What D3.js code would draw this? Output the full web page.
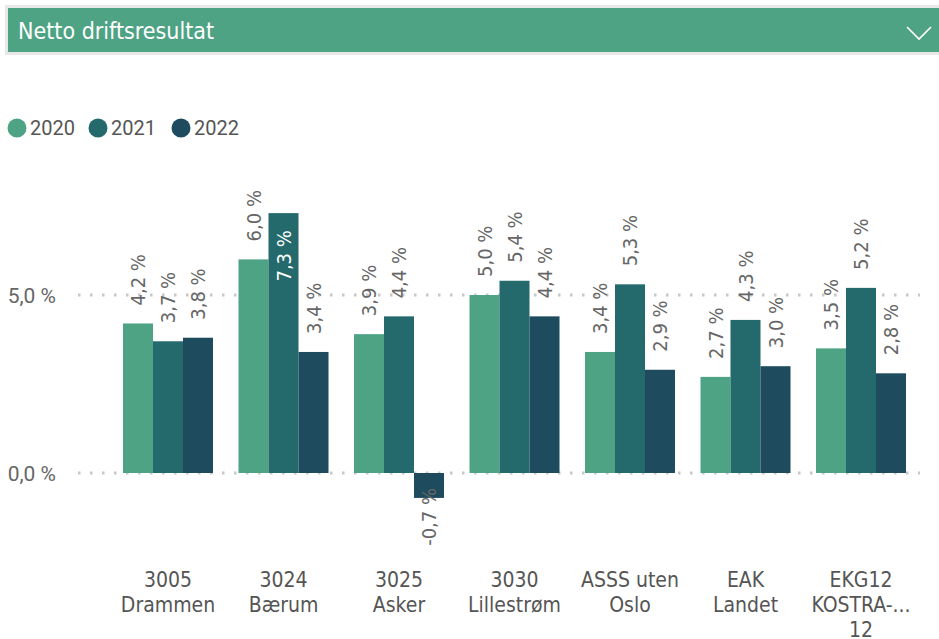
<!DOCTYPE html>
<html>
<head>
<meta charset="utf-8">
<script src="https://cdn.jsdelivr.net/npm/d3@7"></script>
<style>
  body { margin: 0; background: #fff; }
  svg { display: block; }
</style>
</head>
<body>
<div class="plot"></div>
<script>
var W = 939, H = 639;

var categories = [
  ['3005', 'Drammen'],
  ['3024', 'Bærum'],
  ['3025', 'Asker'],
  ['3030', 'Lillestrøm'],
  ['ASSS uten', 'Oslo'],
  ['EAK', 'Landet'],
  ['EKG12', 'KOSTRA-...', '12']
];
var years = ['2020', '2021', '2022'];
var v2020 = [4.2, 6.0, 3.9, 5.0, 3.4, 2.7, 3.5];
var v2021 = [3.7, 7.3, 4.4, 5.4, 5.3, 4.3, 5.2];
var v2022 = [3.8, 3.4, -0.7, 4.4, 2.9, 3.0, 2.8];
var yTicks = [0, 5];
var colors = ['#4da384', '#24696b', '#1e4b5d'];

var series = [v2020, v2021, v2022];
var rows = [];
categories.forEach(function(c, i) {
  series.forEach(function(s, j) {
    rows.push({cat: i, year: years[j], v: s[i]});
  });
});

var fmt = function(v) { return v.toFixed(1).replace('.', ',') + ' %'; };
var condFont = '"DejaVu Sans Condensed", "Liberation Sans Narrow", sans-serif';

var svg = d3.select('.plot').append('svg')
  .attr('width', W).attr('height', H);

// title bar
svg.append('rect').attr('x', 5).attr('y', 5).attr('width', W - 5).attr('height', 50).attr('fill', '#e8e8e8');
svg.append('rect').attr('x', 8).attr('y', 8).attr('width', W - 8).attr('height', 44).attr('fill', '#4ea384');
svg.append('text').attr('x', 18).attr('y', 39)
  .attr('fill', '#fff')
  .style('font-family', condFont)
  .style('font-size', '23px')
  .text('Netto driftsresultat');
svg.append('path').attr('d', 'M907,27 L919,39 L931,27')
  .attr('fill', 'none').attr('stroke', '#fff').attr('stroke-width', 1.6);

// legend
var lg = svg.append('g').selectAll('g').data(years).enter().append('g')
  .attr('transform', function(d, i) { return 'translate(' + [17, 98, 181][i] + ',128)'; });
lg.append('circle').attr('r', 9.5).attr('fill', function(d, i) { return colors[i]; });
lg.append('text').attr('x', 13).attr('dy', '0.36em')
  .attr('fill', '#555')
  .style('font-family', 'Roboto, sans-serif').style('font-size', '20px')
  .text(function(d) { return d; });

// scales
var x = d3.scaleBand().domain(d3.range(categories.length))
  .range([110.25, 918.75]).paddingInner(0.2208).paddingOuter(0.1104);
var x1 = d3.scaleBand().domain(years).range([0, x.bandwidth()]);
var y = d3.scaleLinear().domain([-2, 8]).range([544.2, 188.2]);

// grid + y labels
var g = svg.append('g');
g.selectAll('line.grid').data(yTicks).enter().append('line')
  .attr('x1', 78).attr('x2', 920)
  .attr('y1', function(d) { return y(d); }).attr('y2', function(d) { return y(d); })
  .attr('stroke', '#c8c8c8').attr('stroke-width', 3)
  .attr('stroke-dasharray', '2.5,9.5');
g.selectAll('text.ytick').data(yTicks).enter().append('text')
  .attr('x', 56).attr('y', function(d) { return y(d); }).attr('dy', '0.36em')
  .attr('text-anchor', 'end').attr('fill', '#666')
  .style('font-family', 'Roboto, sans-serif').style('font-size', '21px')
  .text(function(d) { return fmt(d); });

// bars
svg.append('g').selectAll('rect').data(rows).enter().append('rect')
  .attr('x', function(d) { return x(d.cat) + x1(d.year); })
  .attr('width', x1.bandwidth())
  .attr('y', function(d) { return y(Math.max(0, d.v)); })
  .attr('height', function(d) { return Math.abs(y(d.v) - y(0)); })
  .attr('fill', function(d) { return colors[years.indexOf(d.year)]; });

// data labels
svg.append('g').selectAll('text').data(rows).enter().append('text')
  .attr('transform', function(d) {
    var cx = x(d.cat) + x1(d.year) + x1.bandwidth() / 2;
    var ty;
    if (d.v < 0) ty = y(d.v) - 10;
    else if (d.v > 7) ty = y(d.v) + 17;
    else ty = y(d.v) - 18;
    return 'translate(' + cx + ',' + ty + ') rotate(-90)';
  })
  .attr('text-anchor', function(d) { return (d.v > 7 || d.v < 0) ? 'end' : 'start'; })
  .attr('dy', '0.36em')
  .attr('fill', function(d) { return d.v > 7 ? '#fff' : '#666'; })
  .style('font-family', condFont).style('font-size', '20px')
  .text(function(d) { return fmt(d.v); });

// category labels
var cl = svg.append('g').selectAll('text').data(categories).enter().append('text')
  .attr('x', function(d, i) { return x(i) + x.bandwidth() / 2; })
  .attr('y', 587)
  .attr('text-anchor', 'middle').attr('fill', '#555')
  .style('font-family', condFont).style('font-size', '21px');
cl.selectAll('tspan').data(function(d) { return d; }).enter().append('tspan')
  .attr('x', function() { return d3.select(this.parentNode).attr('x'); })
  .attr('dy', function(d, i) { return i ? 25 : 0; })
  .text(function(d) { return d; });
</script>
</body>
</html>
